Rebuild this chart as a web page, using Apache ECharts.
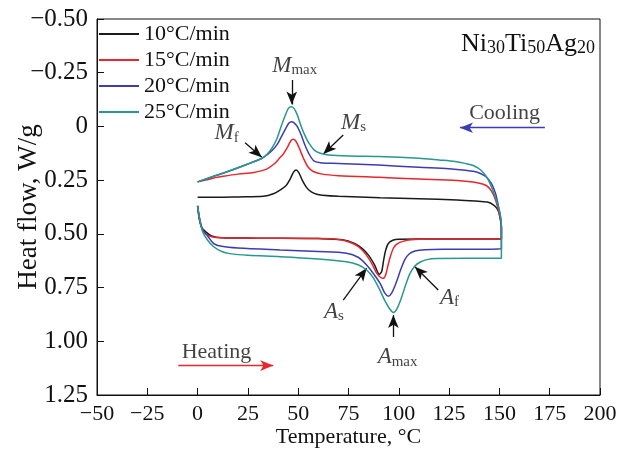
<!DOCTYPE html>
<html>
<head>
<meta charset="utf-8">
<script src="https://cdn.jsdelivr.net/npm/echarts@6/dist/echarts.min.js"></script>
<style>
  html, body { margin: 0; padding: 0; background: #fff; }
  #chart { width: 630px; height: 461px; }
</style>
</head>
<body>
<div id="chart"></div>
<script>
// heating run (0 -> 150 °C), then cooling run (150 -> 0 °C), [T, heat flow]
var heat10 = [[0,0.37],[0.8,0.43],[2,0.47],[4,0.49],[7,0.51],[12,0.518],[30,0.52],[60,0.522],[72,0.527],[78,0.545],[82,0.57],[85,0.6],[88,0.645],[90.3,0.688],[91.5,0.675],[92.5,0.62],[93.5,0.575],[94.8,0.545],[97,0.53],[100,0.525],[110,0.524],[151,0.524]];
var cool10 = [[151,0.47],[150.6,0.44],[150,0.41],[149,0.385],[147,0.365],[144,0.352],[138,0.347],[129,0.342],[110,0.337],[90.7,0.332],[70,0.325],[62,0.32],[59.2,0.316],[56.5,0.305],[54.2,0.285],[52,0.25],[50.3,0.215],[49,0.203],[47.7,0.213],[46,0.245],[44,0.275],[41,0.296],[38,0.312],[32.7,0.325],[20,0.328],[10,0.33],[0,0.33]];

var heat15 = [[0,0.37],[0.8,0.42],[2,0.47],[4,0.5],[7,0.513],[12,0.518],[30,0.52],[60,0.522],[70,0.526],[76,0.54],[80,0.56],[84,0.6],[87,0.645],[89,0.683],[91,0.703],[92.3,0.707],[93.5,0.69],[94.8,0.64],[96,0.6],[97.3,0.567],[99,0.548],[102,0.535],[106,0.527],[115,0.524],[151,0.524]];
var cool15 = [[151,0.47],[150.6,0.435],[149.5,0.39],[148,0.34],[146,0.3],[143.5,0.275],[139,0.262],[129,0.252],[110,0.245],[90,0.237],[70,0.229],[62,0.222],[57.5,0.21],[55,0.19],[52.6,0.148],[50.5,0.1],[48.8,0.068],[47.6,0.06],[46.3,0.068],[44.5,0.1],[42.5,0.13],[41,0.145],[38,0.175],[34,0.2],[28,0.214],[20,0.222],[12.8,0.232],[8,0.24],[4,0.25],[0,0.258]];

var heat20 = [[0,0.37],[1,0.43],[2.5,0.48],[5,0.51],[8,0.545],[12,0.558],[20,0.566],[41,0.575],[60,0.582],[74,0.59],[80,0.61],[84,0.645],[87,0.68],[90.7,0.73],[93,0.775],[94.8,0.79],[96.5,0.775],[98.9,0.722],[101,0.665],[103,0.62],[105,0.595],[108,0.58],[113,0.574],[124,0.572],[151,0.57]];
var cool20 = [[151,0.47],[150.5,0.42],[149.5,0.37],[148,0.31],[146,0.265],[143,0.232],[139,0.213],[133,0.204],[125,0.197],[110,0.19],[90,0.18],[70,0.172],[62,0.17],[58,0.162],[55.5,0.13],[53.5,0.09],[51.5,0.04],[49.5,0.0],[47.8,-0.018],[46.7,-0.022],[45.3,-0.015],[43.5,0.015],[41.5,0.05],[39.5,0.085],[37,0.112],[34.5,0.132],[32,0.148],[25,0.175],[15,0.21],[8,0.232],[0,0.258]];

var heat25 = [[0,0.37],[1,0.43],[2.5,0.49],[5,0.53],[8,0.56],[12,0.582],[16,0.592],[25,0.6],[41,0.606],[60,0.617],[74,0.63],[80,0.645],[84,0.668],[87,0.7],[90,0.75],[93,0.81],[95.5,0.85],[97.3,0.866],[99,0.85],[101.4,0.795],[103.5,0.735],[105.6,0.684],[108,0.65],[110.5,0.632],[114,0.62],[119,0.615],[135,0.614],[151,0.614]];
var cool25 = [[151,0.47],[150.6,0.42],[149.5,0.374],[148,0.33],[146,0.28],[144,0.24],[141,0.205],[137,0.182],[133,0.172],[128,0.163],[120,0.156],[110,0.148],[90,0.14],[75,0.138],[65,0.133],[61,0.125],[58,0.11],[55.5,0.08],[53.5,0.045],[51.5,0.0],[49.5,-0.055],[47.8,-0.085],[46.6,-0.092],[45.2,-0.085],[43.5,-0.05],[41.5,0.0],[39.3,0.06],[37,0.1],[34.5,0.13],[32,0.148],[25,0.175],[15,0.21],[8,0.232],[0,0.258]];

var rateNames = ['10°C/min', '15°C/min', '20°C/min', '25°C/min'];
var rateColors = ['#1a1a1a', '#e8262b', '#3c3cb4', '#26998c'];
var runs = [heat10.concat(cool10), heat15.concat(cool15), heat20.concat(cool20), heat25.concat(cool25)];

var xTicks = [-50, -25, 0, 25, 50, 75, 100, 125, 150, 175, 200];
var yTicks = [-0.5, -0.25, 0, 0.25, 0.5, 0.75, 1.0, 1.25];
var yTickLabels = ['\u22120.50', '\u22120.25', '0', '0.25', '0.50', '0.75', '1.00', '1.25'];

// annotation labels [T, heat flow, text] and arrows [from, to]
var notes = [
  [48.3, -0.283, '{i|M}{s|max}'],
  [14.4, 0.032, '{i|M}{s|f}'],
  [77.5, -0.018, '{i|M}{s|s}'],
  [67.8, 0.862, '{i|A}{s|s}'],
  [125.2, 0.796, '{i|A}{s|f}'],
  [99.4, 1.075, '{i|A}{s|max}'],
  [152.6, -0.062, '{n|Cooling}'],
  [9.4, 1.05, '{n|Heating}']
];
var arrows = [
  [[46.8, -0.216], [46.8, -0.102], '#111'],
  [[23.6, 0.076], [31.9, 0.143], '#111'],
  [[72.4, 0.04], [62.5, 0.128], '#111'],
  [[72.4, 0.808], [84.0, 0.66], '#111'],
  [[119.6, 0.761], [108.0, 0.653], '#111'],
  [[97.3, 0.98], [97.3, 0.878], '#111'],
  [[172.6, 0.006], [130.4, 0.006], '#3c3cb4'],
  [[-9.6, 1.113], [37.6, 1.113], '#e8262b']
];

var serif = "'Liberation Serif', 'Times New Roman', serif";
var chart = echarts.init(document.getElementById('chart'));

var series = runs.map(function (d, i) {
  return {
    name: rateNames[i],
    type: 'line',
    data: d,
    symbol: 'none',
    smooth: 0.3,
    lineStyle: { color: rateColors[i], width: 1.5 },
    itemStyle: { color: rateColors[i] },
    z: 3 + i
  };
});

series.push({
  name: 'notes',
  type: 'scatter',
  data: notes,
  symbolSize: 0,
  silent: true,
  label: {
    show: true,
    position: 'inside',
    formatter: function (p) { return p.data[2]; },
    rich: {
      i: { fontFamily: serif, fontStyle: 'italic', fontSize: 23, color: '#111', lineHeight: 24 },
      s: { fontFamily: serif, fontSize: 15, color: '#111', lineHeight: 8, verticalAlign: 'bottom' },
      n: { fontFamily: serif, fontSize: 22, color: '#111', lineHeight: 24 }
    }
  },
  markLine: {
    silent: true,
    animation: false,
    symbol: ['none', 'arrow'],
    symbolSize: [8, 13],
    label: { show: false },
    data: arrows.map(function (a) {
      return [
        { coord: a[0], lineStyle: { color: a[2], width: 1.3, type: 'solid' }, itemStyle: { color: a[2] } },
        { coord: a[1] }
      ];
    })
  },
  z: 10
});

var option = {
  animation: false,
  grid: {
    left: 97, right: 30, top: 19, bottom: 66,
    outerBoundsMode: 'none', containLabel: false,
    show: true, borderColor: '#111', borderWidth: 1
  },
  legend: {
    data: rateNames,
    orient: 'vertical',
    left: 99,
    top: 23,
    padding: 0,
    icon: 'rect',
    itemWidth: 40,
    itemHeight: 2,
    itemGap: 4,
    textStyle: { fontFamily: serif, fontSize: 22, color: '#111', lineHeight: 22 }
  },
  xAxis: {
    type: 'value',
    min: xTicks[0],
    max: xTicks[xTicks.length - 1],
    interval: 25,
    name: 'Temperature, °C',
    nameLocation: 'middle',
    nameGap: 31,
    nameMoveOverlap: false,
    nameTextStyle: { fontFamily: serif, fontSize: 22, color: '#111' },
    axisLine: { onZero: false, lineStyle: { color: '#111' } },
    axisTick: { inside: true, length: 7, lineStyle: { color: '#111' } },
    axisLabel: {
      fontFamily: serif, fontSize: 22, color: '#111', margin: 8,
      formatter: function (v) { return v < 0 ? '\u2212' + Math.abs(v) : String(v); }
    },
    splitLine: { show: false }
  },
  yAxis: {
    type: 'value',
    inverse: true,
    min: yTicks[0],
    max: yTicks[yTicks.length - 1],
    interval: 0.25,
    name: 'Heat flow, W/g',
    nameLocation: 'middle',
    nameGap: 55,
    nameMoveOverlap: false,
    nameTextStyle: { fontFamily: serif, fontSize: 27, color: '#111' },
    axisLine: { onZero: false, lineStyle: { color: '#111' } },
    axisTick: { inside: true, length: 7, lineStyle: { color: '#111' } },
    axisLabel: {
      fontFamily: serif, fontSize: 25, color: '#111', margin: 9,
      formatter: function (v) {
        var k = yTicks.findIndex(function (t) { return Math.abs(t - v) < 1e-6; });
        return k >= 0 ? yTickLabels[k] : '';
      }
    },
    splitLine: { show: false }
  },
  graphic: [{
    type: 'text',
    right: 35,
    top: 31,
    style: {
      text: '{m|Ni}{s|30}{m|Ti}{s|50}{m|Ag}{s|20}',
      rich: {
        m: { fontFamily: serif, fontSize: 26, fill: '#111', lineHeight: 26 },
        s: { fontFamily: serif, fontSize: 18, fill: '#111', lineHeight: 8, verticalAlign: 'bottom' }
      }
    }
  }],
  series: series
};

chart.setOption(option);
</script>
</body>
</html>
